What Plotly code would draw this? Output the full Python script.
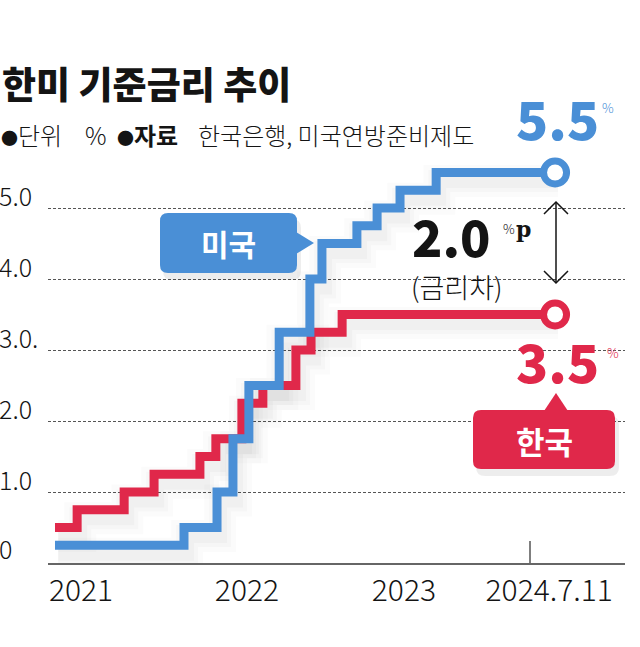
import plotly.graph_objects as go
import pandas as pd

# ---------------- data ----------------
us_dates = ["2021-01-01", "2021-11-29", "2022-02-22", "2022-04-04", "2022-05-15",
            "2022-08-01", "2022-10-19", "2022-11-19", "2023-02-17", "2023-04-10",
            "2023-06-08", "2023-09-09", "2024-07-11"]
us_rates = [0.25, 0.5, 1.0, 1.75, 2.5, 3.25, 4.0, 4.5, 4.75, 5.0, 5.25, 5.5, 5.5]

kr_dates = ["2021-01-01", "2021-02-27", "2021-06-28", "2021-09-13", "2022-01-09",
            "2022-02-19", "2022-04-27", "2022-06-20", "2022-09-13", "2022-10-22",
            "2023-01-10", "2024-07-11"]
kr_rates = [0.5, 0.75, 1.0, 1.25, 1.5, 1.75, 2.25, 2.5, 3.0, 3.25, 3.5, 3.5]

y_grid_vals = [1, 2, 3, 4, 5]
y_label_vals = [0, 1, 2, 3, 4, 5]
y_label_text = ["0", "1.0", "2.0", "3.0.", "4.0", "5.0"]

x_tick_dates = ["2021-03-09", "2022-05-10", "2023-06-18", "2024-06-26"]
x_tick_text = ["2021", "2022", "2023", "2024.7.11"]

US_LAST, KR_LAST = us_rates[-1], kr_rates[-1]
GAP = US_LAST - KR_LAST

# ---------------- styling ----------------
BLUE = "#4A8FD6"
RED = "#E0284A"
INK = "#141414"
KR_FONT = "Noto Sans CJK KR"

FW, FH = 640, 647
ML, MR, MT, MB = 48, 15, 150, 84
PW, PH = FW - ML - MR, FH - MT - MB


def px(x):
    return (x - ML) / PW


def py(y):
    return (FH - MB - y) / PH


def rrect(x0, y0, x1, y1, r):
    pts = [
        ("M", (x0 + r, y0)), ("L", (x1 - r, y0)), ("Q", (x1, y0), (x1, y0 + r)),
        ("L", (x1, y1 - r)), ("Q", (x1, y1), (x1 - r, y1)), ("L", (x0 + r, y1)),
        ("Q", (x0, y1), (x0, y1 - r)), ("L", (x0, y0 + r)), ("Q", (x0, y0), (x0 + r, y0)),
    ]
    s = ""
    for item in pts:
        cmd = item[0]
        s += cmd + " " + " ".join(f"{px(a):.5f},{py(b):.5f}" for a, b in item[1:]) + " "
    return s + "Z"


def poly(points, close=True):
    s = "M " + " L ".join(f"{px(a):.5f},{py(b):.5f}" for a, b in points)
    return s + (" Z" if close else "")


fig = go.Figure()

# soft shadows under the step lines
for dates, rates in ((kr_dates, kr_rates), (us_dates, us_rates)):
    d = pd.to_datetime(pd.Series(dates)) + pd.Timedelta(days=8)
    r = [v - 0.12 for v in rates]
    for w, a in ((32, 0.015), (22, 0.02), (14, 0.025)):
        fig.add_trace(go.Scatter(x=d, y=r, mode="lines", line=dict(color=f"rgba(0,0,0,{a})", width=w, shape="hv"),
                                 hoverinfo="skip", showlegend=False))

fig.add_trace(go.Scatter(x=kr_dates, y=kr_rates, mode="lines", name="한국",
                         line=dict(color=RED, width=9, shape="hv"), showlegend=False))
fig.add_trace(go.Scatter(x=us_dates, y=us_rates, mode="lines", name="미국",
                         line=dict(color=BLUE, width=9, shape="hv"), showlegend=False))
fig.add_trace(go.Scatter(x=[kr_dates[-1]], y=[KR_LAST], mode="markers", showlegend=False,
                         marker=dict(size=23, color="white", line=dict(color=RED, width=7))))
fig.add_trace(go.Scatter(x=[us_dates[-1]], y=[US_LAST], mode="markers", showlegend=False,
                         marker=dict(size=23, color="white", line=dict(color=BLUE, width=7))))

shapes = []
# x-axis end tick
shapes.append(dict(type="line", xref="paper", yref="paper", x0=px(530), x1=px(530), y0=py(541), y1=py(563),
                   line=dict(color="#555", width=1.5)))
# US bubble
shapes.append(dict(type="path", xref="paper", yref="paper", path=rrect(163, 219, 301, 280, 9),
                   fillcolor="rgba(0,0,0,0.07)", line=dict(width=0)))
shapes.append(dict(type="path", xref="paper", yref="paper", path=rrect(160, 213, 297, 273, 8),
                   fillcolor=BLUE, line=dict(width=0)))
shapes.append(dict(type="path", xref="paper", yref="paper", path=poly([(296, 232), (314, 243), (296, 254)]),
                   fillcolor=BLUE, line=dict(width=0)))
# KR bubble
shapes.append(dict(type="path", xref="paper", yref="paper", path=rrect(476, 416, 619, 476, 9),
                   fillcolor="rgba(0,0,0,0.07)", line=dict(width=0)))
shapes.append(dict(type="path", xref="paper", yref="paper", path=rrect(473, 410, 615, 469, 8),
                   fillcolor=RED, line=dict(width=0)))
shapes.append(dict(type="path", xref="paper", yref="paper", path=poly([(544, 411), (556, 393), (568, 411)]),
                   fillcolor=RED, line=dict(width=0)))
# gap arrow
shapes.append(dict(type="line", xref="paper", yref="paper", x0=px(556), x1=px(556), y0=py(202), y1=py(283),
                   line=dict(color=INK, width=1.5)))
shapes.append(dict(type="path", xref="paper", yref="paper", path=poly([(544, 214), (556, 202), (568, 214)], close=False),
                   line=dict(color=INK, width=1.5)))
shapes.append(dict(type="path", xref="paper", yref="paper", path=poly([(544, 271), (556, 283), (568, 271)], close=False),
                   line=dict(color=INK, width=1.5)))

ann = []


def text(x, y, t, size, color=INK, weight=400, xanchor="left", family=KR_FONT):
    ann.append(dict(xref="paper", yref="paper", x=px(x), y=py(y), text=t, showarrow=False,
                    xanchor=xanchor, yanchor="middle", borderpad=0,
                    font=dict(family=family, size=size, color=color, weight=weight)))


BUL = "<span style='font-size:17px'>●</span>"

# title & subtitle
text(1, 83, "한미 기준금리 추이", 37, weight=800)
text(0, 134, BUL + "단위", 24, weight=300)
text(84, 134, "%", 24, weight=300)
text(116, 134, BUL + "<b>자료</b>", 24, weight=300)
text(197, 134, "한국은행, 미국연방준비제도", 24, weight=300)

# y labels
for v, t in zip(y_label_vals, y_label_text):
    ann.append(dict(xref="paper", yref="y", x=px(-2), y=v, text=t, showarrow=False,
                    xanchor="left", yanchor="middle", yshift=15 if v == 0 else 13, borderpad=0,
                    font=dict(family=KR_FONT, size=25, color=INK, weight=300)))

# values
text(515, 117, f"{US_LAST:.1f}", 53, color=BLUE, weight=900)
text(601, 107, "%", 13, color=BLUE, weight=300)
text(411, 235, f"{GAP:.1f}", 50, color=INK, weight=900)
text(502, 228, "%", 13, color=INK, weight=300)
text(515, 229, "<b>p</b>", 22, color=INK, weight=900, family="DejaVu Serif")
text(457, 286, "(금리차)", 27, weight=300, xanchor="center")
text(515, 360, f"{KR_LAST:.1f}", 53, color=RED, weight=900)
text(606, 352, "%", 13, color=RED, weight=300)

# bubble labels
text(228, 243, "미국", 30, color="white", weight=700, xanchor="center")
text(544, 440, "한국", 31, color="white", weight=700, xanchor="center")

fig.update_layout(
    width=FW, height=FH,
    margin=dict(l=ML, r=MR, t=MT, b=MB),
    plot_bgcolor="white", paper_bgcolor="white",
    shapes=shapes, annotations=ann,
    xaxis=dict(type="date", range=["2020-12-14", "2025-01-07"], showgrid=False, zeroline=False,
               showline=True, linecolor="#666", linewidth=1.5,
               tickvals=x_tick_dates, ticktext=x_tick_text, ticks="",
               tickfont=dict(family=KR_FONT, size=30, color=INK, weight=300)),
    yaxis=dict(range=[0, PH / 71.0], tickvals=y_grid_vals, showticklabels=False, ticks="",
               showgrid=True, gridcolor="#555", gridwidth=1, griddash="3px,2px", zeroline=False,
               showline=False),
)

fig.write_html("out.html", config={"displayModeBar": False},
               post_script="document.body.style.margin='0';")
